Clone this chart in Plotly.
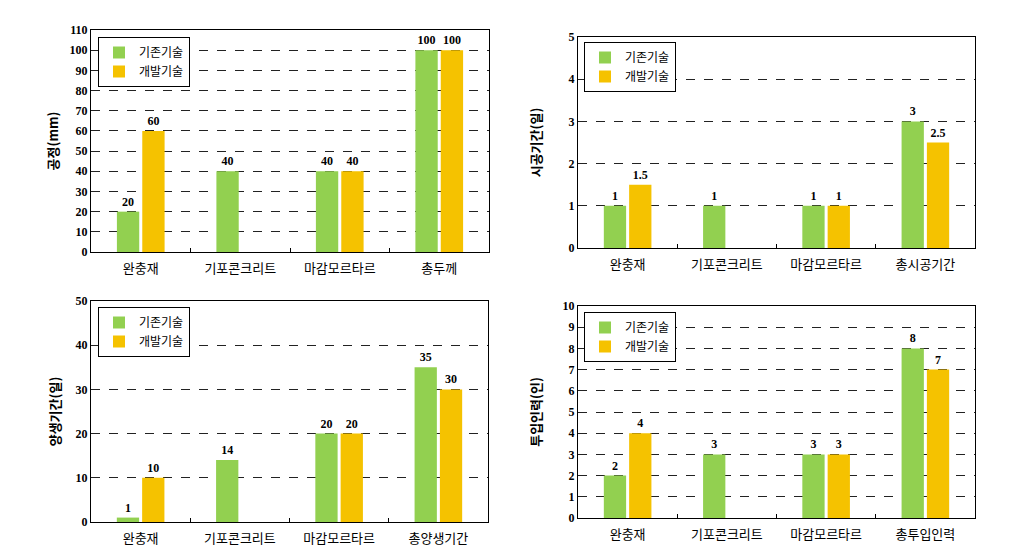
import plotly.graph_objects as go

# data
series_names = ['기존기술', '개발기술']

cats_thick = ['완충재', '기포콘크리트', '마감모르타르', '총두께']
thick_old = [20, 40, 40, 100]
thick_new = [60, None, 40, 100]

cats_period = ['완충재', '기포콘크리트', '마감모르타르', '총시공기간']
period_old = [1, 1, 1, 3]
period_new = [1.5, None, 1, 2.5]

cats_cure = ['완충재', '기포콘크리트', '마감모르타르', '총양생기간']
cure_old = [1, 14, 20, 35]
cure_new = [10, None, 20, 30]

cats_labor = ['완충재', '기포콘크리트', '마감모르타르', '총투입인력']
labor_old = [2, 3, 3, 8]
labor_new = [4, None, 3, 7]

GREEN = '#92d050'
GOLD = '#f5c200'
KFONT = 'Noto Sans CJK KR'
SFONT = 'Liberation Serif'

# page body has an 8px margin, so the figure is drawn 8px in from the window edge
OFF = 8
W, H = 1010 - 2 * OFF, 555 - 2 * OFF


def px_x(a, b):
    return [(a - OFF) / W, (b - OFF) / W]


def px_y(top, bottom):
    return [1 - (bottom - OFF) / H, 1 - (top - OFF) / H]


panels = [
    # cats, old, new, y title, range, dtick, x domain px, y domain px, legend pos px, standoff
    (cats_thick, thick_old, thick_new, '공정(mm)', 110, 10, (91, 489), (30, 252), (98, 37), 8),
    (cats_period, period_old, period_new, '시공기간(일)', 5, 1, (578, 975), (37, 248), (584, 42), 24),
    (cats_cure, cure_old, cure_new, '양생기간(일)', 50, 10, (91, 488), (301, 522), (98, 307), 12),
    (cats_labor, labor_old, labor_new, '투입인력(인)', 10, 1, (578, 975), (306, 518), (584, 312), 18),
]

fig = go.Figure()
layout = {}

for i, (cats, old, new, ytitle, ymax, dtick, xd, yd, lg, standoff) in enumerate(panels):
    n = '' if i == 0 else str(i + 1)
    leg = 'legend' + n
    for name, vals, col in [(series_names[0], old, GREEN), (series_names[1], new, GOLD)]:
        fig.add_trace(go.Bar(
            x=cats, y=vals, name=name,
            marker=dict(color=col, line=dict(width=0)),
            text=[('' if v is None else f'{v:g}') for v in vals],
            textposition='outside', cliponaxis=False, textangle=0,
            textfont=dict(family=SFONT, size=12, color='black', weight='bold'),
            xaxis='x' + n, yaxis='y' + n, legend=leg,
        ))
    layout['xaxis' + n] = dict(
        domain=px_x(*xd), anchor='y' + n, type='category',
        showline=True, linecolor='black', linewidth=1, mirror=True,
        ticks='inside', tickson='boundaries', ticklen=4, tickcolor='black',
        showgrid=False, ticklabelstandoff=4,
        tickfont=dict(family=KFONT, size=13, color='black'),
    )
    layout['yaxis' + n] = dict(
        domain=px_y(*yd), anchor='x' + n, range=[0, ymax], dtick=dtick,
        showline=True, linecolor='black', linewidth=1, mirror=True,
        ticks='', showgrid=True, gridcolor='#222', griddash='dash', gridwidth=1,
        zeroline=False, automargin=False,
        tickfont=dict(family=SFONT, size=12, color='black', weight='bold'),
        title=dict(text=ytitle, standoff=standoff,
                   font=dict(family=KFONT, size=13, color='black', weight='bold')),
    )
    layout[leg] = dict(
        x=(lg[0] - OFF) / W, y=1 - (lg[1] - OFF) / H, xanchor='left', yanchor='top',
        bgcolor='white', bordercolor='black', borderwidth=1,
        font=dict(family=KFONT, size=12, color='black'),
        itemwidth=30, tracegroupgap=0,
    )

fig.update_layout(
    width=W, height=H,
    margin=dict(l=0, r=0, t=0, b=0),
    paper_bgcolor='white', plot_bgcolor='white',
    barmode='group', bargap=0.49, bargroupgap=0.12,
    showlegend=True,
    **layout,
)

fig.write_html('out.html')
